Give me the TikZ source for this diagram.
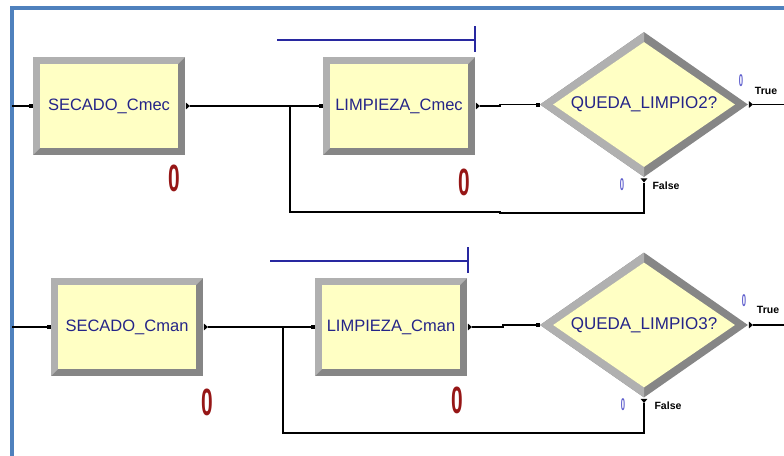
\documentclass[tikz,border=0pt]{standalone}
\usepackage{fontspec}
\setmainfont{Liberation Sans}
\usetikzlibrary{shapes.geometric}

\definecolor{framebl}{RGB}{79,129,189}
\definecolor{boxfill}{RGB}{255,255,196}
\definecolor{bevlight}{RGB}{176,176,176}
\definecolor{bevdark}{RGB}{134,134,134}
\definecolor{labelnavy}{RGB}{36,36,136}
\definecolor{countred}{RGB}{150,22,22}
\definecolor{barblue}{RGB}{40,40,160}
\definecolor{countblue}{RGB}{95,95,205}

\tikzset{
  wire/.style={line width=1.1pt, black},
  procbox/.style={rectangle, minimum width=152pt, minimum height=98pt, inner sep=0pt,
    fill=bevdark, text=labelnavy, font=\fontsize{16.5}{18}\selectfont,
    path picture={
      \fill[bevlight] (path picture bounding box.south west) -- (path picture bounding box.north west)
        -- (path picture bounding box.north east) -- ([shift={(-7pt,-7pt)}]path picture bounding box.north east)
        -- ([shift={(7pt,-7pt)}]path picture bounding box.north west)
        -- ([shift={(7pt,7pt)}]path picture bounding box.south west) -- cycle;
      \fill[boxfill] ([shift={(7pt,-7pt)}]path picture bounding box.north west)
        rectangle ([shift={(-7pt,7pt)}]path picture bounding box.south east);
    }},
  decide/.style={diamond, aspect=1.43, minimum width=208pt, minimum height=145pt, inner sep=0pt,
    fill=bevdark, text=labelnavy, font=\fontsize{17}{19}\selectfont,
    path picture={
      \fill[bevlight] (path picture bounding box.west) -- (path picture bounding box.north)
        -- ([yshift=-10pt]path picture bounding box.north) -- ([xshift=13pt]path picture bounding box.west)
        -- ([yshift=10pt]path picture bounding box.south) -- (path picture bounding box.south) -- cycle;
      \fill[boxfill] ([yshift=-10pt]path picture bounding box.north) -- ([xshift=-13pt]path picture bounding box.east)
        -- ([yshift=10pt]path picture bounding box.south) -- ([xshift=13pt]path picture bounding box.west) -- cycle;
    }},
  inport/.style={rectangle, fill=black, minimum size=4pt, inner sep=0pt},
  outport/.style={isosceles triangle, isosceles triangle apex angle=80, fill=black,
    minimum height=4pt, minimum width=5pt, inner sep=0pt},
  bigcount/.style={text=countred, font=\fontsize{38}{40}\selectfont\bfseries, xscale=0.55, inner sep=0pt},
  smallcount/.style={text=countblue, font=\fontsize{17}{18}\selectfont\bfseries, xscale=0.45, inner sep=0pt},
  branchlbl/.style={font=\fontsize{10.5}{12}\selectfont\bfseries, inner sep=0pt},
  queuebar/.style={line width=1.3pt, barblue},
}

\begin{document}
\begin{tikzpicture}[x=1pt, y=-1pt]
\useasboundingbox (0,0) rectangle (784,455);

% window frame
\draw[framebl, line width=3.2pt] (12,460) -- (12,8) -- (790,8);

% ---------- mechanical line ----------
\node[procbox] (s1) at (109,106) {SECADO\_Cmec};
\node[procbox] (l1) at (399,106) {LIMPIEZA\_Cmec};
\node[decide]  (d1) at (644,104.5) {QUEDA\_LIMPIO2?};

\node[inport] (s1in) at (31,106) {};
\node[outport] (s1out) at (187.5,106) {};
\node[inport] (l1in) at (321,106) {};
\node[outport] (l1out) at (477.5,106) {};
\node[inport] (d1in) at (538,104.5) {};
\node[outport] (d1true) at (750.5,104.5) {};
\node[outport, shape border rotate=-90] (d1false) at (644,180) {};

\coordinate (e1) at (12,106);
\coordinate (b1) at (290,106);
\coordinate (t1) at (784,104.5);

\draw[wire] (e1) -- (s1in);
\draw[wire] (s1out) -- (l1in);
\draw[wire] (l1out) -- (500,106) -- (500,104.5) -- (d1in);
\draw[wire] (d1true) -- (t1);
\draw[wire] (d1false) |- (500,213) -- (500,212) -| (b1);

\coordinate (q1a) at (277,40);
\coordinate (q1b) at (475,40);
\draw[queuebar] (q1a) -- (q1b);
\draw[queuebar] (475,26) -- (475,52);

\node[bigcount] (c1) at (174,178) {0};
\node[bigcount] (c2) at (464,182) {0};
\node[smallcount] (c3) at (741,81) {0};
\node[smallcount] (c4) at (622,185) {0};
\node[branchlbl] (tr1) at (766,91) {True};
\node[branchlbl] (fa1) at (666,186) {False};

% ---------- manual line ----------
\node[procbox] (s2) at (127,327) {SECADO\_Cman};
\node[procbox] (l2) at (391,327) {LIMPIEZA\_Cman};
\node[decide]  (d2) at (644,325) {QUEDA\_LIMPIO3?};

\node[inport] (s2in) at (49,327) {};
\node[outport] (s2out) at (205.5,327) {};
\node[inport] (l2in) at (313,327) {};
\node[outport] (l2out) at (469.5,327) {};
\node[inport] (d2in) at (538,325) {};
\node[outport] (d2true) at (750.5,325) {};
\node[outport, shape border rotate=-90] (d2false) at (644,400.5) {};

\coordinate (e2) at (12,327);
\coordinate (b2) at (283,327);
\coordinate (t2) at (784,325);

\draw[wire] (e2) -- (s2in);
\draw[wire] (s2out) -- (l2in);
\draw[wire] (l2out) -- (503,327) -- (503,325) -- (d2in);
\draw[wire] (d2true) -- (t2);
\draw[wire] (d2false) |- (b2 |- 0,433) -- (b2);

\coordinate (q2a) at (270,261);
\coordinate (q2b) at (468,261);
\draw[queuebar] (q2a) -- (q2b);
\draw[queuebar] (468,247) -- (468,273);

\node[bigcount] (c5) at (207,402) {0};
\node[bigcount] (c6) at (457,400) {0};
\node[smallcount] (c7) at (744,301) {0};
\node[smallcount] (c8) at (623,405) {0};
\node[branchlbl] (tr2) at (768,310) {True};
\node[branchlbl] (fa2) at (668,406) {False};
\end{tikzpicture}
\end{document}
